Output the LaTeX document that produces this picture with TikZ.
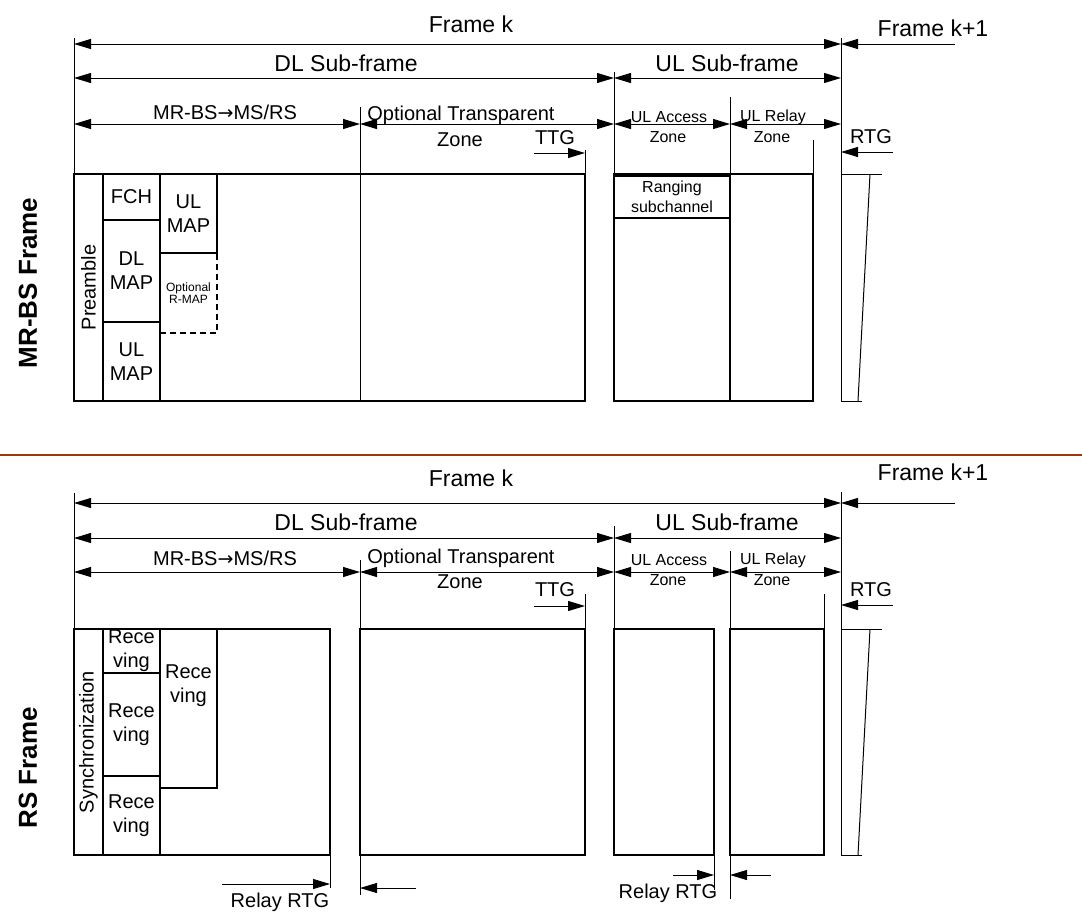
\documentclass[tikz,border=0pt]{standalone}
\usepackage{fontspec}
\setmainfont{Liberation Sans}
\newfontfamily\arrfont{DejaVu Sans}
\usepackage{tikz}
\usetikzlibrary{arrows.meta}
\newcommand{\szbig}{\fontsize{23}{26}\selectfont}
\newcommand{\szmid}{\fontsize{20}{24}\selectfont}
\newcommand{\szsml}{\fontsize{16}{20}\selectfont}
\newcommand{\sztny}{\fontsize{12}{12}\selectfont}
\newcommand{\toarr}{{\arrfont\fontsize{19}{19}\selectfont →}}
\definecolor{sepbrown}{RGB}{160,55,10}
\tikzset{
  guide_ln/.style = {line width=1pt},
  dim_ln/.style = {line width=1pt,
    {Triangle[length=17pt,width=10pt]}-{Triangle[length=17pt,width=10pt]}},
  gap_ar/.style = {line width=1pt, -{Triangle[length=17pt,width=10pt]}},
  frm_box/.style = {draw, line width=2pt},
  blk_n/.style = {draw, line width=2pt, inner sep=0pt, align=center,
    font=\szmid},% frame block with text
  blk_d/.style = {blk_n, dash pattern=on 6pt off 4pt},% optional block
  lbl_big/.style = {inner sep=0pt, font=\szbig},
  lbl_mid/.style = {inner sep=0pt, font=\szmid, align=center},
  lbl_sml/.style = {inner sep=0pt, font=\szsml, align=center},
  side_t/.style = {inner sep=0pt, rotate=90,
    font=\bfseries\fontsize{26}{26}\selectfont}
}

\begin{document}
\begin{tikzpicture}[x=1pt,y=-1pt]
\useasboundingbox (0,0) rectangle (1082,911);
%
% MR-BS frame
%
\node (MRBS) [side_t] at (28,283) {MR-BS Frame};
\draw[guide_ln] (74,38) -- (74,174);
\draw[guide_ln] (841,38) -- (841,401);
\draw[guide_ln] (614,72) -- (614,174);
\draw[guide_ln] (360,107) -- (360,401);
\draw[guide_ln] (730,97) -- (730,174);
\draw[guide_ln] (585,150) -- (585,174);
\draw[guide_ln] (813,140) -- (813,174);
%
\coordinate (T_l) at (74,44);
\coordinate (T_r) at (841,44);
\coordinate (T_n) at (955,44);
\coordinate (T_dl) at (74,78);
\coordinate (T_ul) at (614,78);
\coordinate (T_ur) at (841,78);
\coordinate (T_m0) at (74,124);
\coordinate (T_m1) at (360,124);
\coordinate (T_m2) at (614,124);
\coordinate (T_m3) at (730,124);
\coordinate (T_m4) at (841,124);
\coordinate (T_tt0) at (534,153);
\coordinate (T_tt1) at (585,153);
\coordinate (T_rt0) at (893,152);
\coordinate (T_rt1) at (841,152);
\draw[dim_ln] (T_l) -- (T_r);
\draw[gap_ar] (T_n) -- (T_r);
\draw[dim_ln] (T_dl) -- (T_ul);
\draw[dim_ln] (T_ul) -- (T_ur);
\draw[dim_ln] (T_m0) -- (T_m1);
\draw[dim_ln] (T_m1) -- (T_m2);
\draw[dim_ln] (T_m2) -- (T_m3);
\draw[dim_ln] (T_m3) -- (T_m4);
\draw[gap_ar] (T_tt0) -- (T_tt1);
\draw[gap_ar] (T_rt0) -- (T_rt1);
%
\node (T_fk) [lbl_big] at (471,24) {Frame k};
\node (T_fk1) [lbl_big] at (933,28) {Frame k+1};
\node (T_dls) [lbl_big] at (346,63) {DL Sub-frame};
\node (T_uls) [lbl_big] at (727,63) {UL Sub-frame};
\node (T_mr) [lbl_mid] at (225,112) {MR-BS\toarr MS/RS};
\node (T_opt) [lbl_mid] at (461,115) {Optional Transparent};
\node (T_zn) [lbl_mid] at (460,140) {Zone};
\node (T_ttg) [lbl_mid] at (555,138) {TTG};
\node (T_rtg) [lbl_mid] at (871,137) {RTG};
\node (T_acc) [lbl_sml] at (669,117) {UL Access};
\node (T_accz) [lbl_sml] at (668,137) {Zone};
\node (T_rel) [lbl_sml] at (773,117) {UL Relay};
\node (T_relz) [lbl_sml] at (772,137) {Zone};
%
\draw[frm_box] (74,174) rectangle (585,401);
\node (PRE) [blk_n, rotate=90, minimum width=227, minimum height=29]
  at (88.5,287.5) {Preamble};
\node (FCH) [blk_n, minimum width=57, minimum height=46] at (131.5,197) {FCH};
\node (DLM) [blk_n, minimum width=57, minimum height=102] at (131.5,271) {DL\\MAP};
\node (ULM) [blk_n, minimum width=57, minimum height=79] at (131.5,361.5) {UL\\MAP};
\node (ULM2) [blk_n, minimum width=57, minimum height=79] at (188.5,213.5) {UL\\MAP};
\node (RMAP) [blk_d, minimum width=57, minimum height=80, font=\sztny]
  at (188.5,293) {Optional\\R-MAP};
\draw[frm_box] (614,174) rectangle (813,401);
\draw[frm_box] (730,174) -- (730,401);
\node (RNG) [blk_n, minimum width=116, minimum height=42, font=\szsml]
  at (672,197) {Ranging\\subchannel};
\draw[guide_ln] (882,174) -- (841,174);
\draw[guide_ln] (841,401) -- (862,401);
\draw[guide_ln] (870,174) -- (858,401);
%
% separator
\draw[line width=2pt, sepbrown] (0,455) -- (1082,455);
%
% RS frame
%
\node (RSF) [side_t] at (28,768) {RS Frame};
\draw[guide_ln] (74,493) -- (74,629);
\draw[guide_ln] (841,492) -- (841,855);
\draw[guide_ln] (614,526) -- (614,629);
\draw[guide_ln] (360,560) -- (360,895);
\draw[guide_ln] (730,551) -- (730,899);
\draw[guide_ln] (585,594) -- (585,629);
\draw[guide_ln] (824,594) -- (824,629);
\draw[guide_ln] (330,855) -- (330,888);
\draw[guide_ln] (714,855) -- (714,890);
%
\coordinate (B_l) at (74,503);
\coordinate (B_r) at (841,503);
\coordinate (B_n) at (955,503);
\coordinate (B_dl) at (74,538);
\coordinate (B_ul) at (614,538);
\coordinate (B_ur) at (841,538);
\coordinate (B_m0) at (74,572);
\coordinate (B_m1) at (360,572);
\coordinate (B_m2) at (614,572);
\coordinate (B_m3) at (730,572);
\coordinate (B_m4) at (841,572);
\coordinate (B_tt0) at (534,606);
\coordinate (B_tt1) at (585,606);
\coordinate (B_rt0) at (893,605);
\coordinate (B_rt1) at (841,605);
\coordinate (B_ra0) at (222,884);
\coordinate (B_ra1) at (330,884);
\coordinate (B_rb0) at (416,888);
\coordinate (B_rb1) at (360,888);
\coordinate (B_rc0) at (673,875);
\coordinate (B_rc1) at (714,875);
\coordinate (B_rd0) at (771,875);
\coordinate (B_rd1) at (730,875);
\draw[dim_ln] (B_l) -- (B_r);
\draw[gap_ar] (B_n) -- (B_r);
\draw[dim_ln] (B_dl) -- (B_ul);
\draw[dim_ln] (B_ul) -- (B_ur);
\draw[dim_ln] (B_m0) -- (B_m1);
\draw[dim_ln] (B_m1) -- (B_m2);
\draw[dim_ln] (B_m2) -- (B_m3);
\draw[dim_ln] (B_m3) -- (B_m4);
\draw[gap_ar] (B_tt0) -- (B_tt1);
\draw[gap_ar] (B_rt0) -- (B_rt1);
\draw[gap_ar] (B_ra0) -- (B_ra1);
\draw[gap_ar] (B_rb0) -- (B_rb1);
\draw[gap_ar] (B_rc0) -- (B_rc1);
\draw[gap_ar] (B_rd0) -- (B_rd1);
%
\node (B_fk) [lbl_big] at (471,478) {Frame k};
\node (B_fk1) [lbl_big] at (933,472) {Frame k+1};
\node (B_dls) [lbl_big] at (346,522) {DL Sub-frame};
\node (B_uls) [lbl_big] at (727,522) {UL Sub-frame};
\node (B_mr) [lbl_mid] at (225,558) {MR-BS\toarr MS/RS};
\node (B_opt) [lbl_mid] at (461,558) {Optional Transparent};
\node (B_zn) [lbl_mid] at (460,582) {Zone};
\node (B_ttg) [lbl_mid] at (555,590) {TTG};
\node (B_rtg) [lbl_mid] at (871,590) {RTG};
\node (B_acc) [lbl_sml] at (669,560) {UL Access};
\node (B_accz) [lbl_sml] at (668,580) {Zone};
\node (B_rel) [lbl_sml] at (773,560) {UL Relay};
\node (B_relz) [lbl_sml] at (772,580) {Zone};
\node (B_rrtg) [lbl_mid] at (280,902) {Relay RTG};
\node (B_rrtg2) [lbl_mid] at (668,893) {Relay RTG};
%
\draw[frm_box] (74,629) rectangle (330,855);
\draw[frm_box] (360,629) rectangle (585,855);
\draw[frm_box] (614,629) rectangle (714,855);
\draw[frm_box] (730,629) rectangle (824,855);
\node (SYN) [blk_n, rotate=90, minimum width=226, minimum height=29]
  at (88.5,742) {Synchronization};
\node (RX1) [blk_n, minimum width=57, minimum height=44] at (131.5,651) {Rece\\ving};
\node (RX2) [blk_n, minimum width=57, minimum height=103] at (131.5,724.5) {Rece\\ving};
\node (RX3) [blk_n, minimum width=57, minimum height=79] at (131.5,815.5) {Rece\\ving};
\node (RX4) [blk_n, minimum width=57, minimum height=159] at (188.5,708.5) {};
\node (RX4t) [lbl_mid] at (188.5,686) {Rece\\ving};
\draw[guide_ln] (882,629) -- (841,629);
\draw[guide_ln] (841,855) -- (862,855);
\draw[guide_ln] (870,629) -- (858,855);
\end{tikzpicture}
\end{document}
